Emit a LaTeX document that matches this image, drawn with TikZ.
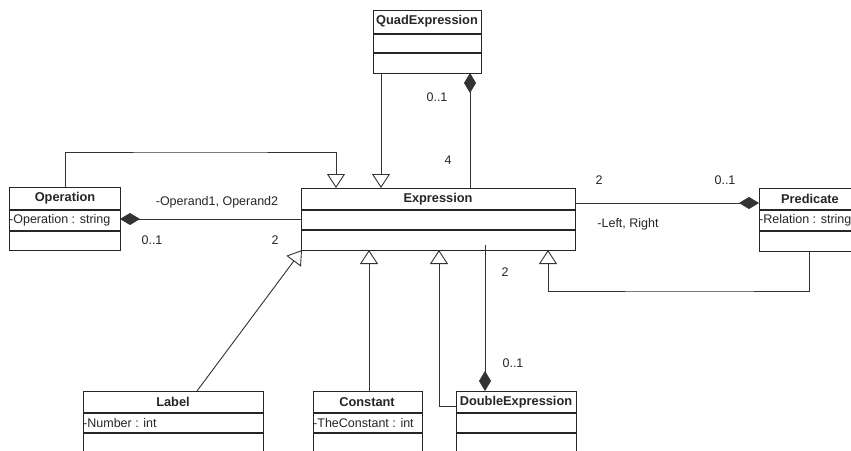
\documentclass[tikz,border=0pt]{standalone}
\usepackage{fontspec}
\setmainfont{Liberation Sans}
\usetikzlibrary{arrows.meta}
\begin{document}
\begin{tikzpicture}[x=1pt,y=-1pt,
  box/.style={draw=black!85, line width=1.1pt, inner sep=0pt, anchor=north west},
  sep/.style={draw=black!85, line width=1.1pt},
  conn/.style={draw=black!80, line width=0.9pt},
  gen/.style={conn, -{Triangle[open, length=14pt, width=18pt, line width=0.9pt]}},
  comp/.style={conn, -{Diamond[length=20pt, width=12pt]}},
  title/.style={font=\fontsize{12.8}{14}\selectfont\bfseries, text=black!85},
  attr/.style={font=\fontsize{12.5}{14}\selectfont, text=black!85, anchor=west, inner sep=1pt},
  lbl/.style={font=\fontsize{12.5}{14}\selectfont, text=black!85}]
\useasboundingbox (0,0) rectangle (851,450);
\fill[white] (0,0) rectangle (851,450);
\clip (0,0) rectangle (851,450);

% Expression
\node[box, minimum width=274pt, minimum height=62pt] (expr) at (301,188) {};
\draw[sep] (301,210) -- (575,210) (301,230) -- (575,230);
\node[title] (exprt) at (438,199) {Expression};

% QuadExpression
\node[box, minimum width=108pt, minimum height=63pt] (quad) at (373,10) {};
\draw[sep] (373,34) -- (481,34) (373,53) -- (481,53);
\node[title] (quadt) at (427,21) {QuadExpression};

% Operation
\node[box, minimum width=111pt, minimum height=63pt] (oper) at (9,187) {};
\draw[sep] (9,210) -- (120,210) (9,231) -- (120,231);
\node[title] (opert) at (65,198) {Operation};
\node[attr] (opera) at (8,220) {-Operation : string};

% Predicate
\node[box, minimum width=102pt, minimum height=63pt] (pred) at (759,188) {};
\draw[sep] (759,210) -- (861,210) (759,231) -- (861,231);
\node[title] (predt) at (810,199) {Predicate};
\node[attr] (preda) at (758,220) {-Relation : string};

% Label
\node[box, minimum width=180pt, minimum height=90pt] (label) at (83,391) {};
\draw[sep] (83,413) -- (263,413) (83,433) -- (263,433);
\node[title] (labelt) at (173,402) {Label};
\node[attr] (labela) at (82,423) {-Number : int};

% Constant
\node[box, minimum width=109pt, minimum height=90pt] (const) at (313,391) {};
\draw[sep] (313,413) -- (422,413) (313,433) -- (422,433);
\node[title] (constt) at (367,402) {Constant};
\node[attr] (consta) at (312,423) {-TheConstant : int};

% DoubleExpression
\node[box, minimum width=120pt, minimum height=90pt] (dbl) at (456,391) {};
\draw[sep] (456,413) -- (576,413) (456,433) -- (576,433);
\node[title] (dblt) at (516,402) {DoubleExpression};

% coordinates
\coordinate (qg1) at (381,73);   \coordinate (qg2) at (381,188);
\coordinate (qc1) at (470,188);  \coordinate (qc2) at (470,73);
\coordinate (og1) at (65,187);   \coordinate (og2) at (336,188);
\coordinate (oc1) at (301,219);  \coordinate (oc2) at (120,219);
\coordinate (pc1) at (575,203);  \coordinate (pc2) at (759,203);
\coordinate (pg1) at (809,251);  \coordinate (pg2) at (548,250);
\coordinate (lg1) at (197,391);  \coordinate (lg2) at (302,250);
\coordinate (cg1) at (369,391);  \coordinate (cg2) at (369,250);
\coordinate (dg1) at (456,406);  \coordinate (dg2) at (439,250);
\coordinate (dc1) at (485,245);  \coordinate (dc2) at (485,391);

% connectors
\draw[gen] (qg1) -- (qg2);
\draw[comp] (qc1) -- (qc2);
\draw[gen] (og1) |- (200,152) -| (og2);
\draw[comp] (oc1) -- (oc2);
\draw[comp] (pc1) -- (pc2);
\draw[gen] (pg1) |- (700,291) -| (pg2);
\draw[gen] (lg1) -- (lg2);
\draw[gen] (cg1) -- (cg2);
\draw[gen] (dg1) -| (dg2);
\draw[comp] (dc1) -- (dc2);

% labels
\node[lbl] (l1) at (437,97) {0..1};
\node[lbl] (l2) at (448,160) {4};
\node[lbl] (l3) at (217,202) {-Operand1, Operand2};
\node[lbl] (l4) at (152,240) {0..1};
\node[lbl] (l5) at (275,240) {2};
\node[lbl] (l6) at (599,180) {2};
\node[lbl] (l7) at (725,180) {0..1};
\node[lbl] (l8) at (628,224) {-Left, Right};
\node[lbl] (l9) at (505,272) {2};
\node[lbl] (l10) at (513,363) {0..1};
\end{tikzpicture}
\end{document}
